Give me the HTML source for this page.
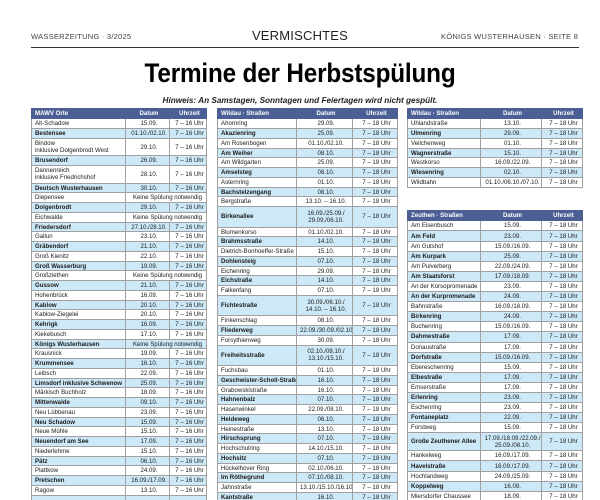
<!DOCTYPE html>
<html><head><meta charset="utf-8">
<style>
html,body{margin:0;padding:0;background:#fff;width:600px;height:500px;overflow:hidden;position:relative;font-family:"Liberation Sans",sans-serif;color:#1a1a1a}
.hd{position:absolute;top:32px;font-size:7.6px;color:#444;letter-spacing:0.2px}
.rule{position:absolute;left:31px;top:47px;width:548px;height:1px;background:#333}
.title{position:absolute;left:0;width:600px;top:58px;text-align:center;font-size:27px;font-weight:bold;color:#000;letter-spacing:-0.2px;transform:scaleX(0.9)}
.hint{position:absolute;left:0;width:600px;top:96px;text-align:center;font-size:8.2px;font-style:italic;font-weight:bold;color:#222}
table{position:absolute;border-collapse:collapse;table-layout:fixed;font-size:6.1px}
td,th{border:0.7px solid #a0a0a0;padding:0 0 0 3px;white-space:nowrap;overflow:hidden;line-height:7px;text-align:center}
td:first-child{text-align:left}
th{background:#4c5f95;color:#fff;font-weight:bold;height:9.4px;border-color:#4c5f95}
th:first-child{text-align:left}
tr{height:9.75px}
tr.d{height:17.5px}
.t2 tr.d{height:20.5px}
.t4 tr{height:10.1px}
.t4 tr.d{height:18px}
tr.b td{background:#cde9f7}
tr.b td:first-child{font-weight:bold}
</style></head><body>
<div class="hd" style="left:31px">WASSERZEITUNG · 3/2025</div>
<div class="hd" style="left:0;width:600px;text-align:center;top:28px;font-size:13px;color:#222">VERMISCHTES</div>
<div class="hd" style="right:22px">KÖNIGS WUSTERHAUSEN · SEITE 8</div>
<div class="rule"></div>
<div class="title">Termine der Herbstspülung</div>
<div class="hint">Hinweis: An Samstagen, Sonntagen und Feiertagen wird nicht gespült.</div>

<table style="left:31px;top:108px;width:175px">
<colgroup><col style="width:94px"><col style="width:44px"><col style="width:37px"></colgroup>
<tr><th>MAWV Orte</th><th>Datum</th><th>Uhrzeit</th></tr>
<tr><td>Alt-Schadow</td><td>15.09.</td><td>7 – 16 Uhr</td></tr>
<tr class="b"><td>Bestensee</td><td>01.10./02.10.</td><td>7 – 16 Uhr</td></tr>
<tr class="d"><td>Bindow<br>inklusive Dolgenbrodt West</td><td>29.10.</td><td>7 – 16 Uhr</td></tr>
<tr class="b"><td>Brusendorf</td><td>26.09.</td><td>7 – 16 Uhr</td></tr>
<tr class="d"><td>Dannenreich<br>inklusive Friedrichshof</td><td>28.10.</td><td>7 – 16 Uhr</td></tr>
<tr class="b"><td>Deutsch Wusterhausen</td><td>30.10.</td><td>7 – 16 Uhr</td></tr>
<tr><td>Diepensee</td><td colspan="2">Keine Spülung notwendig</td></tr>
<tr class="b"><td>Dolgenbrodt</td><td>29.10.</td><td>7 – 16 Uhr</td></tr>
<tr><td>Eichwalde</td><td colspan="2">Keine Spülung notwendig</td></tr>
<tr class="b"><td>Friedersdorf</td><td>27.10./28.10.</td><td>7 – 16 Uhr</td></tr>
<tr><td>Gallun</td><td>23.10.</td><td>7 – 16 Uhr</td></tr>
<tr class="b"><td>Gräbendorf</td><td>21.10.</td><td>7 – 16 Uhr</td></tr>
<tr><td>Groß Kienitz</td><td>22.10.</td><td>7 – 16 Uhr</td></tr>
<tr class="b"><td>Groß Wasserburg</td><td>19.09.</td><td>7 – 16 Uhr</td></tr>
<tr><td>Großziethen</td><td colspan="2">Keine Spülung notwendig</td></tr>
<tr class="b"><td>Gussow</td><td>21.10.</td><td>7 – 16 Uhr</td></tr>
<tr><td>Hohenbrück</td><td>16.09.</td><td>7 – 16 Uhr</td></tr>
<tr class="b"><td>Kablow</td><td>20.10.</td><td>7 – 16 Uhr</td></tr>
<tr><td>Kablow-Ziegelei</td><td>20.10.</td><td>7 – 16 Uhr</td></tr>
<tr class="b"><td>Kehrigk</td><td>16.09.</td><td>7 – 16 Uhr</td></tr>
<tr><td>Kiekebusch</td><td>17.10.</td><td>7 – 16 Uhr</td></tr>
<tr class="b"><td>Königs Wusterhausen</td><td colspan="2">Keine Spülung notwendig</td></tr>
<tr><td>Krausnick</td><td>19.09.</td><td>7 – 16 Uhr</td></tr>
<tr class="b"><td>Krummensee</td><td>16.10.</td><td>7 – 16 Uhr</td></tr>
<tr><td>Leibsch</td><td>22.09.</td><td>7 – 16 Uhr</td></tr>
<tr class="b"><td>Limsdorf inklusive Schwenow</td><td>25.09.</td><td>7 – 16 Uhr</td></tr>
<tr><td>Märkisch Buchholz</td><td>18.09.</td><td>7 – 16 Uhr</td></tr>
<tr class="b"><td>Mittenwalde</td><td>09.10.</td><td>7 – 16 Uhr</td></tr>
<tr><td>Neu Lübbenau</td><td>23.09.</td><td>7 – 16 Uhr</td></tr>
<tr class="b"><td>Neu Schadow</td><td>15.09.</td><td>7 – 16 Uhr</td></tr>
<tr><td>Neue Mühle</td><td>15.10.</td><td>7 – 16 Uhr</td></tr>
<tr class="b"><td>Neuendorf am See</td><td>17.09.</td><td>7 – 16 Uhr</td></tr>
<tr><td>Niederlehme</td><td>15.10.</td><td>7 – 16 Uhr</td></tr>
<tr class="b"><td>Pätz</td><td>06.10.</td><td>7 – 16 Uhr</td></tr>
<tr><td>Plattkow</td><td>24.09.</td><td>7 – 16 Uhr</td></tr>
<tr class="b"><td>Pretschen</td><td>16.09./17.09.</td><td>7 – 16 Uhr</td></tr>
<tr><td>Ragow</td><td>13.10.</td><td>7 – 16 Uhr</td></tr>
<tr class="b d"><td>Rietzneuendorf</td><td></td><td></td></tr>
</table>

<table class="t2" style="left:217px;top:108px;width:180px">
<colgroup><col style="width:79px"><col style="width:56px"><col style="width:45px"></colgroup>
<tr><th>Wildau · Straßen</th><th>Datum</th><th>Uhrzeit</th></tr>
<tr><td>Ahornring</td><td>29.09.</td><td>7 – 18 Uhr</td></tr>
<tr class="b"><td>Akazienring</td><td>25.09.</td><td>7 – 18 Uhr</td></tr>
<tr><td>Am Rosenbogen</td><td>01.10./02.10.</td><td>7 – 18 Uhr</td></tr>
<tr class="b"><td>Am Weiher</td><td>08.10.</td><td>7 – 18 Uhr</td></tr>
<tr><td>Am Wildgarten</td><td>25.09.</td><td>7 – 18 Uhr</td></tr>
<tr class="b"><td>Amselsteg</td><td>08.10.</td><td>7 – 18 Uhr</td></tr>
<tr><td>Asternring</td><td>01.10.</td><td>7 – 18 Uhr</td></tr>
<tr class="b"><td>Bachstelzengang</td><td>08.10.</td><td>7 – 18 Uhr</td></tr>
<tr><td>Bergstraße</td><td>13.10. – 16.10.</td><td>7 – 18 Uhr</td></tr>
<tr class="b d"><td>Birkenallee</td><td>16.09./25.09./<br>29.09./06.10.</td><td>7 – 18 Uhr</td></tr>
<tr><td>Blumenkorso</td><td>01.10./02.10.</td><td>7 – 18 Uhr</td></tr>
<tr class="b"><td>Brahmsstraße</td><td>14.10.</td><td>7 – 18 Uhr</td></tr>
<tr><td>Dietrich-Bonhoeffer-Straße</td><td>15.10.</td><td>7 – 18 Uhr</td></tr>
<tr class="b"><td>Dohlensteig</td><td>07.10.</td><td>7 – 18 Uhr</td></tr>
<tr><td>Eichenring</td><td>29.09.</td><td>7 – 18 Uhr</td></tr>
<tr class="b"><td>Eichstraße</td><td>14.10.</td><td>7 – 18 Uhr</td></tr>
<tr><td>Falkenfang</td><td>07.10.</td><td>7 – 18 Uhr</td></tr>
<tr class="b d"><td>Fichtestraße</td><td>30.09./06.10./<br>14.10. – 16.10.</td><td>7 – 18 Uhr</td></tr>
<tr><td>Finkenschlag</td><td>08.10.</td><td>7 – 18 Uhr</td></tr>
<tr class="b"><td>Fliederweg</td><td>22.09./30.09./02.10.</td><td>7 – 18 Uhr</td></tr>
<tr><td>Forsythienweg</td><td>30.09.</td><td>7 – 18 Uhr</td></tr>
<tr class="b d"><td>Freiheitsstraße</td><td>02.10./08.10./<br>13.10./15.10.</td><td>7 – 18 Uhr</td></tr>
<tr><td>Fuchsbau</td><td>01.10.</td><td>7 – 18 Uhr</td></tr>
<tr class="b"><td>Geschwister-Scholl-Straße</td><td>16.10.</td><td>7 – 18 Uhr</td></tr>
<tr><td>Grabowskistraße</td><td>16.10.</td><td>7 – 18 Uhr</td></tr>
<tr class="b"><td>Hahnenbalz</td><td>07.10.</td><td>7 – 18 Uhr</td></tr>
<tr><td>Hasenwinkel</td><td>22.09./08.10.</td><td>7 – 18 Uhr</td></tr>
<tr class="b"><td>Heideweg</td><td>06.10.</td><td>7 – 18 Uhr</td></tr>
<tr><td>Heinestraße</td><td>13.10.</td><td>7 – 18 Uhr</td></tr>
<tr class="b"><td>Hirschsprung</td><td>07.10.</td><td>7 – 18 Uhr</td></tr>
<tr><td>Hochschulring</td><td>14.10./15.10.</td><td>7 – 18 Uhr</td></tr>
<tr class="b"><td>Hochsitz</td><td>07.10.</td><td>7 – 18 Uhr</td></tr>
<tr><td>Hückelhover Ring</td><td>02.10./06.10.</td><td>7 – 18 Uhr</td></tr>
<tr class="b"><td>Im Röthegrund</td><td>07.10./08.10.</td><td>7 – 18 Uhr</td></tr>
<tr><td>Jahnstraße</td><td>13.10./15.10./16.10.</td><td>7 – 18 Uhr</td></tr>
<tr class="b"><td>Kantstraße</td><td>16.10.</td><td>7 – 18 Uhr</td></tr>
</table>

<table style="left:407px;top:108px;width:175px">
<colgroup><col style="width:73px"><col style="width:61px"><col style="width:41px"></colgroup>
<tr><th>Wildau · Straßen</th><th>Datum</th><th>Uhrzeit</th></tr>
<tr><td>Uhlandstraße</td><td>13.10.</td><td>7 – 18 Uhr</td></tr>
<tr class="b"><td>Ulmenring</td><td>29.09.</td><td>7 – 18 Uhr</td></tr>
<tr><td>Veilchenweg</td><td>01.10.</td><td>7 – 18 Uhr</td></tr>
<tr class="b"><td>Wagnerstraße</td><td>15.10.</td><td>7 – 18 Uhr</td></tr>
<tr><td>Westkorso</td><td>16.09./22.09.</td><td>7 – 18 Uhr</td></tr>
<tr class="b"><td>Wiesenring</td><td>02.10.</td><td>7 – 18 Uhr</td></tr>
<tr><td>Wildbahn</td><td>01.10./06.10./07.10.</td><td>7 – 18 Uhr</td></tr>
</table>

<table class="t4" style="left:407px;top:210px;width:175px">
<colgroup><col style="width:73px"><col style="width:61px"><col style="width:41px"></colgroup>
<tr><th>Zeuthen · Straßen</th><th>Datum</th><th>Uhrzeit</th></tr>
<tr><td>Am Eisenbusch</td><td>15.09.</td><td>7 – 18 Uhr</td></tr>
<tr class="b"><td>Am Feld</td><td>23.09.</td><td>7 – 18 Uhr</td></tr>
<tr><td>Am Gutshof</td><td>15.09./16.09.</td><td>7 – 18 Uhr</td></tr>
<tr class="b"><td>Am Kurpark</td><td>25.09.</td><td>7 – 18 Uhr</td></tr>
<tr><td>Am Pulverberg</td><td>22.09./24.09.</td><td>7 – 18 Uhr</td></tr>
<tr class="b"><td>Am Staatsforst</td><td>17.09./18.09.</td><td>7 – 18 Uhr</td></tr>
<tr><td>An der Korsopromenade</td><td>23.09.</td><td>7 – 18 Uhr</td></tr>
<tr class="b"><td>An der Kurpromenade</td><td>24.09.</td><td>7 – 18 Uhr</td></tr>
<tr><td>Bahnstraße</td><td>16.09./18.09.</td><td>7 – 18 Uhr</td></tr>
<tr class="b"><td>Birkenring</td><td>24.09.</td><td>7 – 18 Uhr</td></tr>
<tr><td>Buchenring</td><td>15.09./16.09.</td><td>7 – 18 Uhr</td></tr>
<tr class="b"><td>Dahmestraße</td><td>17.09.</td><td>7 – 18 Uhr</td></tr>
<tr><td>Donaustraße</td><td>17.09.</td><td>7 – 18 Uhr</td></tr>
<tr class="b"><td>Dorfstraße</td><td>15.09./16.09.</td><td>7 – 18 Uhr</td></tr>
<tr><td>Ebereschenring</td><td>15.09.</td><td>7 – 18 Uhr</td></tr>
<tr class="b"><td>Elbestraße</td><td>17.09.</td><td>7 – 18 Uhr</td></tr>
<tr><td>Emserstraße</td><td>17.09.</td><td>7 – 18 Uhr</td></tr>
<tr class="b"><td>Erlenring</td><td>23.09.</td><td>7 – 18 Uhr</td></tr>
<tr><td>Eschenring</td><td>23.09.</td><td>7 – 18 Uhr</td></tr>
<tr class="b"><td>Fontaneplatz</td><td>22.09.</td><td>7 – 18 Uhr</td></tr>
<tr><td>Forstweg</td><td>15.09.</td><td>7 – 18 Uhr</td></tr>
<tr class="b d"><td>Große Zeuthener Allee</td><td>17.09./18.09./22.09./<br>25.09./08.10.</td><td>7 – 18 Uhr</td></tr>
<tr><td>Hankelweg</td><td>16.09./17.09.</td><td>7 – 18 Uhr</td></tr>
<tr class="b"><td>Havelstraße</td><td>16.09./17.09.</td><td>7 – 18 Uhr</td></tr>
<tr><td>Hochlandweg</td><td>24.09./25.09.</td><td>7 – 18 Uhr</td></tr>
<tr class="b"><td>Koppelweg</td><td>16.09.</td><td>7 – 18 Uhr</td></tr>
<tr><td>Miersdorfer Chaussee</td><td>18.09.</td><td>7 – 18 Uhr</td></tr>
</table>
</body></html>
